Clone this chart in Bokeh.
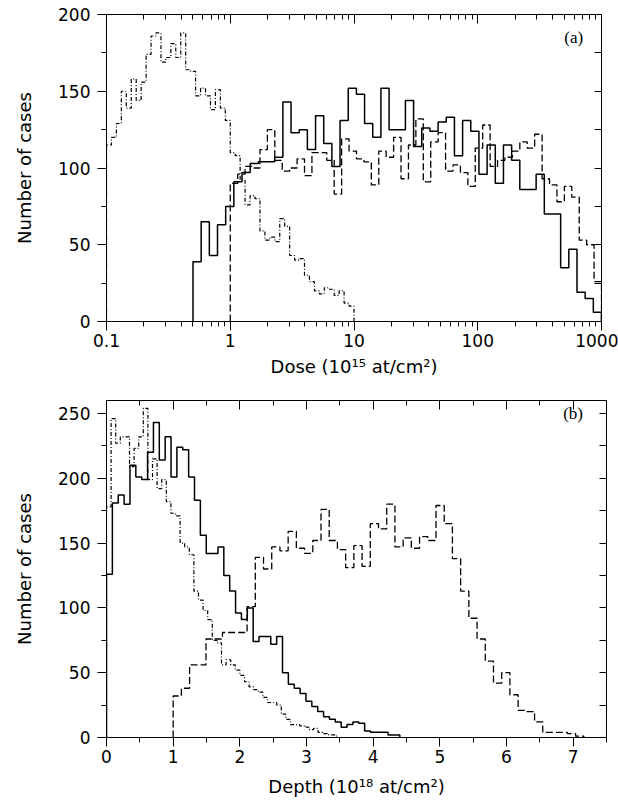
import numpy as np
from bokeh.plotting import figure
from bokeh.layouts import column
from bokeh.models import (LinearAxis, LogAxis, FixedTicker, SingleIntervalTicker,
                          CustomJSTickFormatter, Range1d, Label)
from bokeh.embed import file_html
from bokeh.resources import INLINE

# ---------------- data: panel (a), dose histograms (50 log bins each) ----------------
dose_dashdot_range = (0.1, 10.0)
dose_solid_range = (0.5, 1000.0)
dose_dashed_range = (1.0, 1000.0)

dose_dashdot_counts = [115, 120, 129, 150, 139, 158, 144, 156, 174, 186,
                       188, 169, 172, 181, 172, 188, 164, 163, 147, 152,
                       147, 138, 151, 139, 131, 110, 108, 92, 76, 82,
                       80, 59, 53, 55, 52, 67, 62, 43, 40, 41,
                       30, 26, 20, 18, 22, 21, 17, 20, 12, 10]
dose_solid_counts = [39, 65, 43, 63, 75, 91, 97, 103, 104, 104,
                     107, 143, 123, 125, 112, 134, 116, 101, 131, 152,
                     148, 129, 120, 152, 125, 125, 144, 114, 126, 124,
                     130, 133, 108, 131, 124, 96, 115, 90, 115, 105,
                     86, 86, 96, 70, 70, 35, 47, 19, 15, 6]
dose_dashed_counts = [90, 96, 101, 100, 112, 125, 105, 98, 100, 106,
                      95, 110, 110, 105, 83, 119, 111, 106, 104, 89,
                      111, 107, 120, 93, 115, 132, 91, 117, 123, 98,
                      102, 97, 88, 113, 128, 101, 105, 107, 111, 117,
                      113, 122, 93, 89, 78, 88, 81, 53, 50, 26]

dose_major_ticks = [0.1, 1, 10, 100, 1000]

# ---------------- data: panel (b), depth histograms (50 linear bins each) ----------------
depth_solid_range = (0.0, 4.4)
depth_dashdot_range = (0.0, 3.45)
depth_dashed_range = (1.0, 7.16)

depth_solid_counts = [126, 181, 187, 180, 210, 201, 199, 220, 243, 214,
                      232, 201, 224, 222, 201, 183, 156, 142, 142, 147,
                      125, 113, 96, 91, 100, 74, 78, 78, 72, 78,
                      50, 41, 38, 34, 28, 24, 20, 16, 14, 12,
                      8, 10, 12, 11, 5, 4, 4, 4, 2, 2]
depth_dashdot_counts = [178, 246, 227, 232, 232, 209, 223, 232, 254, 199,
                        215, 192, 199, 182, 173, 171, 150, 147, 141, 113,
                        106, 98, 91, 75, 73, 56, 60, 56, 52, 48,
                        43, 39, 37, 35, 31, 27, 27, 25, 18, 14,
                        10, 10, 9, 8, 6, 7, 4, 3, 2, 2]
depth_dashed_counts = [32, 38, 56, 56, 76, 76, 81, 81, 81, 101,
                       139, 130, 147, 144, 159, 146, 142, 152, 176, 152,
                       145, 131, 148, 132, 165, 161, 180, 147, 154, 146,
                       155, 152, 179, 165, 138, 113, 92, 76, 59, 42,
                       50, 33, 21, 20, 12, 4, 4, 4, 3, 1]

FONT = "DejaVu Sans"


def log_edges(rng, n):
    return np.logspace(np.log10(rng[0]), np.log10(rng[1]), n + 1)


def lin_edges(rng, n):
    return np.linspace(rng[0], rng[1], n + 1)


def step_xy(edges, counts):
    xs = np.repeat(edges, 2)
    ys = np.concatenate([[0], np.repeat(np.asarray(counts, dtype=float), 2), [0]])
    return xs, ys


def style_axis(ax, labels=True):
    ax.axis_line_color = "black"
    ax.axis_line_width = 1
    ax.major_tick_line_color = "black"
    ax.minor_tick_line_color = "black"
    ax.major_tick_line_width = 1
    ax.minor_tick_line_width = 1
    ax.major_label_text_font = FONT
    ax.major_label_text_font_size = "17px"
    ax.major_label_text_color = "black"
    ax.axis_label_text_font = FONT
    ax.axis_label_text_font_size = "18px"
    ax.axis_label_text_font_style = "normal"
    ax.axis_label_text_color = "black"
    if not labels:
        ax.formatter = CustomJSTickFormatter(code="return ''")
        ax.major_label_standoff = 0


def base_style(p):
    p.outline_line_color = "black"
    p.outline_line_width = 1
    p.xgrid.grid_line_color = None
    p.ygrid.grid_line_color = None
    p.background_fill_color = "white"
    p.border_fill_color = "white"


# ---------------- panel (a) ----------------
p1 = figure(x_axis_type="log", x_range=Range1d(0.1, 1000), y_range=Range1d(0, 200),
            frame_width=495, frame_height=307,
            min_border_left=103, min_border_right=20, min_border_top=14, min_border_bottom=69,
            output_backend="svg", toolbar_location=None)
base_style(p1)

minor_log = [m * 10.0 ** e for e in range(-1, 3) for m in range(2, 10)]
xa = p1.xaxis[0]
xa.ticker = FixedTicker(ticks=dose_major_ticks, minor_ticks=minor_log)
xa.formatter = CustomJSTickFormatter(code="return tick.toString()")
style_axis(xa)
xa.major_tick_out = 9
xa.major_tick_in = 0
xa.minor_tick_out = 5
xa.minor_tick_in = 0
xa.major_label_standoff = 3
xa.axis_label = "Dose (10¹⁵ at/cm²)"
xa.axis_label_standoff = 6

ya = p1.yaxis[0]
ya.ticker = SingleIntervalTicker(interval=50, num_minor_ticks=2)
style_axis(ya)
ya.major_tick_out = 9
ya.major_tick_in = 0
ya.minor_tick_out = 5
ya.minor_tick_in = 0
ya.major_label_standoff = 7
ya.axis_label = "Number of cases"
ya.axis_label_standoff = 20

top1 = LogAxis(ticker=FixedTicker(ticks=dose_major_ticks, minor_ticks=minor_log))
style_axis(top1, labels=False)
top1.major_tick_in = 9
top1.major_tick_out = 0
top1.minor_tick_in = 5
top1.minor_tick_out = 0
p1.add_layout(top1, "above")

right1 = LinearAxis(ticker=SingleIntervalTicker(interval=25, num_minor_ticks=0))
style_axis(right1, labels=False)
right1.major_tick_in = 7
right1.major_tick_out = 0
right1.minor_tick_in = 0
right1.minor_tick_out = 0
p1.add_layout(right1, "right")

xs, ys = step_xy(log_edges(dose_dashdot_range, len(dose_dashdot_counts)), dose_dashdot_counts)
p1.line(xs, ys, line_color="black", line_width=1.2, line_dash="4 2 1 2")
xs, ys = step_xy(log_edges(dose_dashed_range, len(dose_dashed_counts)), dose_dashed_counts)
p1.line(xs, ys, line_color="black", line_width=1.3, line_dash="7 3")
xs, ys = step_xy(log_edges(dose_solid_range, len(dose_solid_counts)), dose_solid_counts)
p1.line(xs, ys, line_color="black", line_width=1.5)

p1.add_layout(Label(x=500, y=185, text="(a)", text_font="Liberation Serif",
                    text_font_size="17px", text_color="black",
                    text_align="left", text_baseline="middle"))

# ---------------- panel (b) ----------------
p2 = figure(x_range=Range1d(0, 7.5), y_range=Range1d(0, 260),
            frame_width=500, frame_height=337,
            min_border_left=106, min_border_right=12, min_border_top=10, min_border_bottom=74,
            output_backend="svg", toolbar_location=None)
base_style(p2)

xb = p2.xaxis[0]
xb.ticker = SingleIntervalTicker(interval=1, num_minor_ticks=2)
style_axis(xb)
xb.major_tick_out = 9
xb.major_tick_in = 0
xb.minor_tick_out = 5
xb.minor_tick_in = 0
xb.major_label_standoff = 3
xb.axis_label = "Depth (10¹⁸ at/cm²)"
xb.axis_label_standoff = 10

yb = p2.yaxis[0]
yb.ticker = SingleIntervalTicker(interval=50, num_minor_ticks=2)
style_axis(yb)
yb.major_tick_out = 9
yb.major_tick_in = 0
yb.minor_tick_out = 5
yb.minor_tick_in = 0
yb.major_label_standoff = 7
yb.axis_label = "Number of cases"
yb.axis_label_standoff = 20

top2 = LinearAxis(ticker=SingleIntervalTicker(interval=1, num_minor_ticks=2))
style_axis(top2, labels=False)
top2.major_tick_in = 9
top2.major_tick_out = 0
top2.minor_tick_in = 5
top2.minor_tick_out = 0
p2.add_layout(top2, "above")

right2 = LinearAxis(ticker=SingleIntervalTicker(interval=25, num_minor_ticks=0))
style_axis(right2, labels=False)
right2.major_tick_in = 7
right2.major_tick_out = 0
right2.minor_tick_in = 0
right2.minor_tick_out = 0
p2.add_layout(right2, "right")

xs, ys = step_xy(lin_edges(depth_dashdot_range, len(depth_dashdot_counts)), depth_dashdot_counts)
p2.line(xs, ys, line_color="black", line_width=1.2, line_dash="4 2 1 2")
xs, ys = step_xy(lin_edges(depth_dashed_range, len(depth_dashed_counts)), depth_dashed_counts)
p2.line(xs, ys, line_color="black", line_width=1.3, line_dash="7 3")
xs, ys = step_xy(lin_edges(depth_solid_range, len(depth_solid_counts)), depth_solid_counts)
p2.line(xs, ys, line_color="black", line_width=1.5)

p2.add_layout(Label(x=6.85, y=250, text="(b)", text_font="Liberation Serif",
                    text_font_size="17px", text_color="black",
                    text_align="left", text_baseline="middle"))

layout = column(p1, p2, spacing=0)
open("out.html", "w").write(file_html(layout, INLINE))
